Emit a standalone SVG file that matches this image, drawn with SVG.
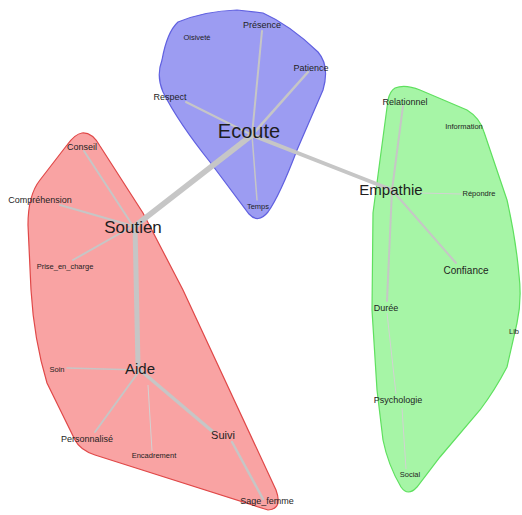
<svg xmlns="http://www.w3.org/2000/svg" width="522" height="515" viewBox="0 0 522 515">
<style>
text{font-family:"Liberation Sans",Arial,sans-serif;fill:#1e1e1e;text-anchor:middle}
.hull{stroke-width:1.2}
.blue{fill:#9c9cf2;stroke:#6060e0}
.red{fill:#f9a3a3;stroke:#e04848}
.green{fill:#a6f5a6;stroke:#5fe05f}
.e{stroke:#c6c6c6;fill:none;stroke-linecap:round}
.f{stroke:#d2d2d2;fill:none;stroke-width:1}
.big{font-size:20px}
.mid{font-size:17px}
.med{font-size:15px}
.s11{font-size:11px}
.s10{font-size:10px}
.s9{font-size:9px}
.s8{font-size:7.5px}
</style>
<rect width="522" height="515" fill="#ffffff"/>
<g id="clusters">
<path class="hull blue" d="M178,22 Q205,11 237,10 L263,13 Q290,25 318,52 Q330,66 323,90 L297,150 Q280,195 268,212 Q258,224 249,214 L210,162 Q178,122 163,92 Q156,76 162,60 Q167,32 178,22 Z"/>
<path class="hull red" d="M82,133 Q92,132 100,146 L143,213 L183,290 L276,490 Q283,509 268,510 L95,455 Q80,450 75,440 L47,383 Q34,340 31,290 L28,225 Q28,195 40,180 L67,145 Q75,134 82,133 Z"/>
<path class="hull green" d="M395,88 Q405,84 420,90 L467,110 Q480,118 484,132 L507,200 Q516,240 519,275 Q522,300 517,323 L507,367 Q495,390 480,410 L440,457 L417,487 Q408,497 401,487 Q388,465 383,440 L377,390 L372,310 L373,213 L380,160 L388,100 Q390,91 395,88 Z"/>
</g>
<g id="connectors">
<line class="e" x1="252" y1="135" x2="135" y2="226" stroke-width="5.5"/>
<line class="e" x1="252" y1="135" x2="392" y2="190" stroke-width="4"/>
<line class="e" x1="252" y1="135" x2="262" y2="31" stroke-width="2"/>
<line class="e" x1="252" y1="135" x2="308" y2="72" stroke-width="2.5"/>
<line class="e" x1="252" y1="135" x2="186" y2="102" stroke-width="2"/>
<line class="e" x1="252" y1="135" x2="257" y2="200" stroke-width="1.5"/>
<line class="e" x1="135" y1="226" x2="138" y2="365" stroke-width="5"/>
<line class="e" x1="133" y1="226" x2="84" y2="151" stroke-width="2"/>
<line class="e" x1="133" y1="226" x2="60" y2="205" stroke-width="2"/>
<line class="e" x1="133" y1="226" x2="73" y2="260" stroke-width="2"/>
<line class="e" x1="140" y1="370" x2="67" y2="368" stroke-width="1.5"/>
<line class="e" x1="140" y1="370" x2="95" y2="432" stroke-width="2"/>
<line class="f" x1="148" y1="385" x2="152" y2="451"/>
<line class="e" x1="140" y1="370" x2="212" y2="431" stroke-width="3.5"/>
<line class="e" x1="232" y1="442" x2="263" y2="499" stroke-width="2.5"/>
<line class="e" x1="392" y1="190" x2="403" y2="106" stroke-width="2"/>
<line class="e" x1="392" y1="190" x2="387" y2="301" stroke-width="2"/>
<line class="e" x1="392" y1="190" x2="456" y2="263" stroke-width="2"/>
<line class="f" x1="420" y1="193" x2="462" y2="194"/>
<line class="f" x1="387" y1="313" x2="396" y2="394"/>
<line class="f" x1="402" y1="408" x2="406" y2="469"/>
</g>
<g id="node-ecoute"><text class="big" x="249" y="138">Ecoute</text></g>
<g id="node-presence"><text class="s9" x="262" y="28">Présence</text></g>
<g id="node-oisivete"><text class="s8" x="197" y="40">Oisiveté</text></g>
<g id="node-patience"><text class="s9" x="311" y="71">Patience</text></g>
<g id="node-respect"><text class="s9" x="170" y="100">Respect</text></g>
<g id="node-temps"><text class="s8" x="258" y="209">Temps</text></g>
<g id="node-soutien"><text class="mid" x="133" y="233">Soutien</text></g>
<g id="node-conseil"><text class="s9" x="82" y="150">Conseil</text></g>
<g id="node-comprehension"><text class="s9" x="40" y="203">Compréhension</text></g>
<g id="node-prise"><text class="s8" x="65" y="269">Prise_en_charge</text></g>
<g id="node-aide"><text class="med" x="140" y="374">Aide</text></g>
<g id="node-soin"><text class="s8" x="57" y="372">Soin</text></g>
<g id="node-personnalise"><text class="s9" x="87" y="442">Personnalisé</text></g>
<g id="node-encadrement"><text class="s8" x="154" y="458">Encadrement</text></g>
<g id="node-suivi"><text class="s11" x="223" y="439">Suivi</text></g>
<g id="node-sage"><text class="s9" x="267" y="504">Sage_femme</text></g>
<g id="node-empathie"><text class="med" x="391" y="195">Empathie</text></g>
<g id="node-relationnel"><text class="s9" x="405" y="105">Relationnel</text></g>
<g id="node-information"><text class="s8" x="464" y="129">Information</text></g>
<g id="node-repondre"><text class="s8" x="479" y="196">Répondre</text></g>
<g id="node-confiance"><text class="s10" x="466" y="274">Confiance</text></g>
<g id="node-duree"><text class="s9" x="386" y="311">Durée</text></g>
<g id="node-psychologie"><text class="s9" x="398" y="403">Psychologie</text></g>
<g id="node-social"><text class="s8" x="410" y="477">Social</text></g>
<g id="node-libre"><text class="s8" x="509" y="334" style="text-anchor:start">Lib</text></g>
</svg>
